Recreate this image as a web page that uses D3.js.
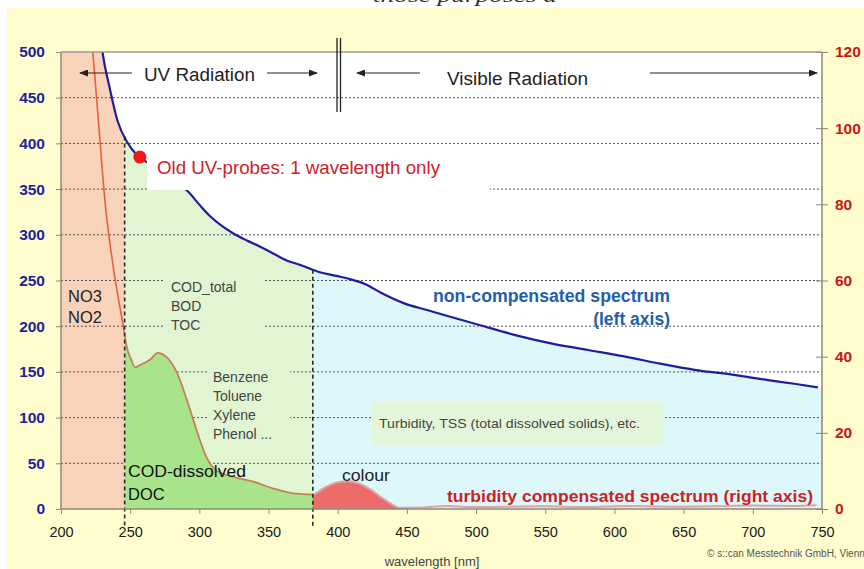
<!DOCTYPE html>
<html><head><meta charset="utf-8">
<script src="https://cdn.jsdelivr.net/npm/d3@7"></script>
<style>
body{margin:0;background:#fff;}
svg{display:block;font-family:"Liberation Sans",Arial,sans-serif;}
</style>
</head><body>
<svg id="c" width="864" height="569"></svg>
<script>
// ---------- data ----------
const wavelengthTicks = [200,250,300,350,400,450,500,550,600,650,700,750];
const leftTicks = [0,50,100,150,200,250,300,350,400,450,500];
const rightTicks = [0,20,40,60,80,100,120];
// non-compensated spectrum (left axis)
const blueNm  = [228,230,235,241,248,255,265,280,292,300,308,316,324,334,344,354,363,373,387,399,410,420,432,448,464,482,503,529,555,581,607,633,659,685,711,730,747];
const blueVal = [525,500,462,424,401,387,377,361,347,333,320,310,302,294,287,279,272,267,259,255,251,246,236,225,218,210,201,190,181,174,167,159,152,147,141,137,133];
// turbidity compensated spectrum (right axis)
const redNm  = [221,223,227,232,238,245,247.5,251,253.5,257,264,270,276,284,291,298,305,312,324,339,353,368,382,390,400,408,416,424,431,438,445,460,480,495,520,550,580,610,640,670,700,730,746];
const redVal = [128,120,102,80,63,48,42.6,39,37.2,37.8,39.1,41,40,35.6,28.6,20.7,13.7,10.2,8.5,7.2,5.4,4.1,3.8,5.5,7,7.3,6.6,5,3.2,1.5,0.3,0.4,0.8,0.5,0.6,0.7,0.5,0.8,0.6,0.7,0.9,0.8,1.0];
// spectral regions: nitrate | organics | visible
const regionBounds = [200, 246, 382, 750];
const colourBandEnd = 450;
const probeNm = [257];
const probeVal = [385];

// ---------- setup ----------
const svg = d3.select("#c");
const x  = d3.scaleLinear().domain([200,750]).range([61,822]);
const yL = d3.scaleLinear().domain([0,500]).range([509,52]);
const yR = d3.scaleLinear().domain([0,120]).range([509,52]);

const blue = blueNm.map((n,i)=>[n, blueVal[i]]);
const red  = redNm.map((n,i)=>[n, redVal[i]]);
function blueAt(nm){
  const i = Math.max(1, d3.bisectRight(blueNm, nm));
  const t = (nm - blueNm[i-1])/(blueNm[i]-blueNm[i-1]);
  return blueVal[i-1] + t*(blueVal[i]-blueVal[i-1]);
}

const defs = svg.append("defs");
function clip(id, x0, x1){
  defs.append("clipPath").attr("id", id).append("rect")
    .attr("x", x(x0)).attr("y", yL(500)).attr("width", x(x1)-x(x0)).attr("height", yL(0)-yL(500));
}
clip("cPlot", 200, 750);
clip("cPeach", regionBounds[0], regionBounds[1]);
clip("cOrg", regionBounds[1], regionBounds[2]);
clip("cVis", regionBounds[2], regionBounds[3]);
clip("cColour", regionBounds[2], colourBandEnd);

defs.append("marker").attr("id","arr").attr("markerUnits","userSpaceOnUse")
  .attr("markerWidth",9).attr("markerHeight",7).attr("refX",8).attr("refY",3.5).attr("orient","auto")
  .append("path").attr("d","M0,0 L9,3.5 L0,7 Z").attr("fill","#222");

// ---------- backgrounds ----------
svg.append("rect").attr("width",864).attr("height",569).attr("fill","#fff");
svg.append("rect").attr("x",7).attr("y",8).attr("width",857).attr("height",561).attr("fill","#FFFDCD");
svg.append("text").attr("x",373).attr("y",1.5)
  .attr("font-family","'Liberation Serif',serif").attr("font-style","italic").attr("font-size",18)
  .attr("textLength",184).attr("lengthAdjust","spacingAndGlyphs")
  .attr("fill","#333").text("those purposes a");
svg.append("rect").attr("x",x(200)).attr("y",yL(500)).attr("width",x(750)-x(200)).attr("height",yL(0)-yL(500)).attr("fill","#fff");

// ---------- region fills under the blue curve ----------
const blueFill = [[regionBounds[0], blueVal[0]], ...blue, [regionBounds[3], blueVal[blueVal.length-1]]];
const areaL = d3.area().x(d=>x(d[0])).y0(yL(0)).y1(d=>yL(d[1])).curve(d3.curveMonotoneX);
const areaR = d3.area().x(d=>x(d[0])).y0(yR(0)).y1(d=>yR(d[1])).curve(d3.curveMonotoneX);
const lineL = d3.line().x(d=>x(d[0])).y(d=>yL(d[1])).curve(d3.curveMonotoneX);
const lineR = d3.line().x(d=>x(d[0])).y(d=>yR(d[1])).curve(d3.curveMonotoneX);

svg.append("path").attr("d", areaL(blueFill)).attr("fill","#F9D3B9").attr("clip-path","url(#cPeach)");
svg.append("path").attr("d", areaL(blueFill)).attr("fill","#E1F5D3").attr("clip-path","url(#cOrg)");
svg.append("path").attr("d", areaL(blueFill)).attr("fill","#DDF7FB").attr("clip-path","url(#cVis)");

// ---------- gridlines ----------
svg.append("g").selectAll("line").data(leftTicks.filter(v=>v>0 && v<500)).join("line")
  .attr("x1", x(200)).attr("x2", x(750)).attr("y1", d=>yL(d)).attr("y2", d=>yL(d))
  .attr("stroke","#555").attr("stroke-width",1).attr("stroke-dasharray","2,2");

// ---------- fills under red curve ----------
svg.append("path").attr("d", areaR(red)).attr("fill","#A8E58A").attr("clip-path","url(#cOrg)");
svg.append("path").attr("d", areaR(red)).attr("fill","#EE6B6B").attr("clip-path","url(#cColour)");

// ---------- lines ----------
svg.append("path").attr("d", lineR(red)).attr("fill","none").attr("stroke","#E4603E").attr("stroke-width",1.6).attr("clip-path","url(#cPeach)");
svg.append("path").attr("d", lineR(red)).attr("fill","none").attr("stroke","#C68058").attr("stroke-width",1.8).attr("clip-path","url(#cOrg)");
svg.append("path").attr("d", lineR(red)).attr("fill","none").attr("stroke","#DDA4A4").attr("stroke-width",2).attr("clip-path","url(#cVis)");
svg.append("path").attr("d", lineL(blue)).attr("fill","none").attr("stroke","#1D1DA0").attr("stroke-width",2.2).attr("clip-path","url(#cPlot)");

// ---------- text boxes ----------
svg.append("rect").attr("x",147).attr("y",146).attr("width",343).attr("height",44).attr("fill","#fff");
svg.append("rect").attr("x",165).attr("y",271).attr("width",100).attr("height",65).attr("fill","#E1F5D3");
svg.append("rect").attr("x",208).attr("y",362).attr("width",82).attr("height",82).attr("fill","#E1F5D3");
svg.append("rect").attr("x",372).attr("y",402).attr("width",292).attr("height",43).attr("fill","#E4F6DA");

// ---------- region boundary dashed lines ----------
svg.append("g").selectAll("line").data([regionBounds[1], regionBounds[2]]).join("line")
  .attr("x1", d=>x(d)).attr("x2", d=>x(d)).attr("y1", d=>yL(blueAt(d))).attr("y2", yL(0)+17)
  .attr("stroke","#2a2a2a").attr("stroke-width",1.6).attr("stroke-dasharray","4,3");

// ---------- axes ----------
const axisCol = "#8F8878";
const gL = svg.append("g").attr("transform",`translate(${x(200)},0)`)
  .call(d3.axisLeft(yL).tickValues(leftTicks).tickSize(5).tickPadding(11));
gL.select(".domain").remove();
gL.selectAll("line").attr("stroke", axisCol);
gL.selectAll("text").attr("fill","#1F1F9C").attr("font-size",15.5).attr("font-weight","bold").attr("font-family","'Liberation Sans',Arial,sans-serif");

const gR = svg.append("g").attr("transform",`translate(${x(750)},0)`)
  .call(d3.axisRight(yR).tickValues(rightTicks).tickSize(6).tickPadding(7));
gR.select(".domain").remove();
gR.selectAll("line").attr("x1",-6).attr("stroke", axisCol);
gR.selectAll("text").attr("fill","#CC1414").attr("font-size",15.5).attr("font-weight","bold").attr("font-family","'Liberation Sans',Arial,sans-serif");

const gB = svg.append("g").attr("transform",`translate(0,${yL(0)})`)
  .call(d3.axisBottom(x).tickValues(wavelengthTicks).tickSize(5).tickPadding(13));
gB.select(".domain").remove();
gB.selectAll("line").attr("stroke", axisCol);
gB.selectAll("text").attr("fill","#1a1a1a").attr("font-size",14.5).attr("font-family","'Liberation Sans',Arial,sans-serif");

// frame
const frame = svg.append("g").attr("stroke",axisCol).attr("stroke-width",1.5).attr("fill","none");
frame.append("line").attr("x1",x(200)).attr("x2",x(200)).attr("y1",yL(500)).attr("y2",yL(0));
frame.append("line").attr("x1",x(750)).attr("x2",x(750)).attr("y1",yL(500)).attr("y2",yL(0));
frame.append("line").attr("x1",x(200)).attr("x2",x(750)).attr("y1",yL(0)).attr("y2",yL(0));
frame.append("line").attr("x1",x(200)).attr("x2",x(750)).attr("y1",yL(500)).attr("y2",yL(500)).attr("stroke","#9a9a9a");

// ---------- probe point ----------
svg.append("g").selectAll("circle").data(probeNm).join("circle")
  .attr("cx", d=>x(d)).attr("cy", (d,i)=>yL(probeVal[i])).attr("r",6.5).attr("fill","#EE1A1A");

// ---------- annotations ----------
function arrow(x1,x2,y){ svg.append("line").attr("x1",x1).attr("x2",x2).attr("y1",y).attr("y2",y)
  .attr("stroke","#222").attr("stroke-width",1.2).attr("marker-end","url(#arr)"); }
arrow(132,80,73); arrow(267,317,73); arrow(420,357,73); arrow(650,817,73);
svg.append("line").attr("x1",337).attr("x2",337).attr("y1",38).attr("y2",112).attr("stroke","#222").attr("stroke-width",1.3);
svg.append("line").attr("x1",340.5).attr("x2",340.5).attr("y1",38).attr("y2",112).attr("stroke","#222").attr("stroke-width",1.3);

function txt(t, xx, yy, size, fill, opts={}){
  const e = svg.append("text").attr("x",xx).attr("y",yy).attr("font-size",size).attr("fill",fill).text(t);
  if(opts.bold) e.attr("font-weight","bold");
  if(opts.anchor) e.attr("text-anchor",opts.anchor);
  if(opts.len) e.attr("textLength",opts.len).attr("lengthAdjust","spacingAndGlyphs");
  return e;
}
txt("UV Radiation", 144, 80.5, 18, "#222", {len:111});
txt("Visible Radiation", 447, 85, 18.5, "#222", {len:141});
txt("Old UV-probes: 1 wavelength only", 157, 174, 18.5, "#D0202A", {len:283});
txt("NO3", 68, 302, 16.5, "#222");
txt("NO2", 68, 323, 16.5, "#222");
txt("COD_total", 171, 292, 14, "#444");
txt("BOD", 171, 311, 14, "#444");
txt("TOC", 171, 330, 14, "#444");
txt("Benzene", 213, 382, 14, "#444");
txt("Toluene", 213, 401, 14, "#444");
txt("Xylene", 213, 420, 14, "#444");
txt("Phenol ...", 213, 439, 14, "#444");
txt("COD-dissolved", 128, 477, 16.5, "#111", {len:118});
txt("DOC", 128, 500, 16.5, "#111");
txt("non-compensated spectrum", 433, 302, 17.5, "#1F5FAD", {bold:true, len:237});
txt("(left axis)", 670, 325, 17.5, "#1F5FAD", {bold:true, anchor:"end"});
txt("Turbidity, TSS (total dissolved solids), etc.", 379, 428, 13.5, "#444", {len:261});
txt("colour", 342, 481, 16.5, "#222", {len:48});
txt("turbidity compensated spectrum (right axis)", 447, 502, 17, "#CC1F26", {bold:true, len:366});
txt("wavelength [nm]", 432, 566, 13, "#444", {anchor:"middle"});
txt("© s::can Messtechnik GmbH, Vienna", 707, 557, 10, "#555");
</script>
</body></html>
